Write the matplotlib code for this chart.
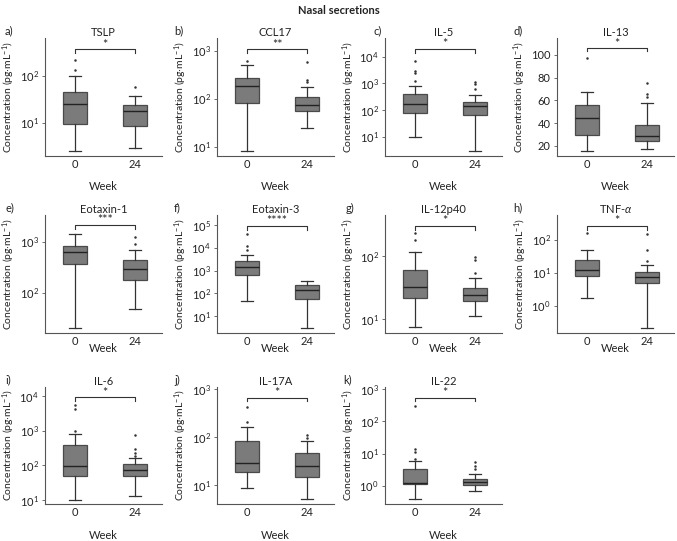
import matplotlib
matplotlib.use("Agg")
import matplotlib.pyplot as plt
import numpy as np

plt.rcParams['font.family'] = ['Lato', 'DejaVu Sans']
plt.rcParams['mathtext.fontset'] = 'custom'
plt.rcParams['mathtext.rm'] = 'Lato'
plt.rcParams['mathtext.it'] = 'Lato:italic'
plt.rcParams['font.size'] = 8

weeks = ["0", "24"]
panel_letters = ["a)", "b)", "c)", "d)", "e)", "f)", "g)", "h)", "i)", "j)", "k)"]
titles = ["TSLP", "CCL17", "IL-5", "IL-13", "Eotaxin-1", "Eotaxin-3",
          "IL-12p40", r"TNF-$\alpha$", "IL-6", "IL-17A", "IL-22"]
stars = ["*", "**", "*", "*", "***", "****", "*", "*", "*", "*", "*"]
log_scale = [True, True, True, False, True, True, True, True, True, True, True]

# box stats per panel: [whislo, q1, median, q3, whishi] for week 0 and week 24
week0_box = [
    [2.6, 9.3, 25, 45, 97],
    [8.1, 83, 183, 269, 497],
    [10, 77, 175, 420, 840],
    [15.3, 29.5, 44.8, 56, 67.6],
    [20, 368, 617, 811, 1420],
    [44, 620, 1500, 2760, 4900],
    [7.4, 21.6, 33, 60, 117],
    [1.75, 7.7, 11.7, 24, 47.5],
    [10, 48, 95, 395, 820],
    [8.9, 18.8, 29, 83, 161],
    [0.39, 1.1, 1.2, 3.2, 5.7],
]
week24_box = [
    [3.0, 8.6, 18, 24, 38],
    [25, 56, 75, 108, 175],
    [2.9, 65, 138, 208, 383],
    [17.6, 24.2, 28.7, 38, 58.1],
    [47, 177, 297, 435, 677],
    [3.1, 57, 141, 234, 363],
    [11.2, 19.4, 24, 31, 45],
    [0.21, 5.0, 7.3, 10.7, 17.5],
    [12.8, 48, 72, 107, 160],
    [5.1, 15, 25, 47, 83],
    [0.68, 1.07, 1.3, 1.65, 2.3],
]
week0_fliers = [
    [218, 132],
    [620],
    [6700, 3000, 2450, 1250],
    [96.8],
    [],
    [41400, 11500, 8200],
    [233, 184],
    [157],
    [5760, 4400, 1020],
    [424, 211],
    [307, 14, 11.3, 6.6],
]
week24_fliers = [
    [57],
    [583, 248, 222],
    [1150, 917, 610],
    [75.6, 65.8, 63.2],
    [1220, 890],
    [],
    [96, 87, 55],
    [146, 47.5, 22],
    [750, 290, 230, 185],
    [112, 98],
    [5.3, 4.2, 3.4],
]
bracket_y = [366, 1070, 19600, 105.7, 2130, 90000, 304, 262, 9200, 673, 550]
y_limits = [(2.0, 630), (6.5, 1830), (1.9, 51000), (11.1, 114.8), (16, 3360),
            (1.8, 277000), (6.0, 456), (0.146, 566), (7.7, 18500), (4.1, 1116),
            (0.27, 1180)]
y_ticks = [
    [1e1, 1e2],
    [1e1, 1e2, 1e3],
    [1e1, 1e2, 1e3, 1e4],
    [20, 40, 60, 80, 100],
    [1e2, 1e3],
    [1e1, 1e2, 1e3, 1e4, 1e5],
    [1e1, 1e2],
    [1e0, 1e1, 1e2],
    [1e1, 1e2, 1e3, 1e4],
    [1e1, 1e2, 1e3],
    [1e0, 1e1, 1e2, 1e3],
]

W, H = 677, 541
fig = plt.figure(figsize=(W / 100, H / 100), dpi=100)

col_x = [45, 217, 385, 557]
row_y = [(38, 156), (215, 333), (387, 504)]
label_x = [5, 174, 373, 513, 5, 174, 346, 513, 5, 174, 343]
week_label_y = [-0.21, -0.085, -0.22]
ax_w = 117

edge = "#333333"
for i in range(11):
    r, c = divmod(i, 4)
    top, bot = row_y[r]
    ax = fig.add_axes([col_x[c] / W, 1 - bot / H, ax_w / W, (bot - top) / H])

    stats = []
    for box, fl, lab in [(week0_box[i], week0_fliers[i], weeks[0]),
                         (week24_box[i], week24_fliers[i], weeks[1])]:
        stats.append(dict(whislo=box[0], q1=box[1], med=box[2], q3=box[3],
                          whishi=box[4], fliers=fl, label=lab))
    ax.bxp(stats, positions=[0, 1], widths=0.4, patch_artist=True,
           boxprops=dict(facecolor="#7b7b7b", edgecolor="#4a4a4a", linewidth=0.9),
           medianprops=dict(color="#222222", linewidth=1.0),
           whiskerprops=dict(color=edge, linewidth=0.9),
           capprops=dict(color=edge, linewidth=0.9),
           flierprops=dict(marker="o", markersize=1.8, markerfacecolor=edge,
                           markeredgewidth=0))

    if log_scale[i]:
        ax.set_yscale("log")
    ax.set_ylim(*y_limits[i])
    ax.set_yticks(y_ticks[i])
    ax.minorticks_off()
    ax.set_xlim(-0.5, 1.45)

    # significance bracket
    yb = bracket_y[i]
    if log_scale[i]:
        drop = yb / 10 ** (0.03 * np.log10(y_limits[i][1] / y_limits[i][0]))
    else:
        drop = yb - 0.025 * (y_limits[i][1] - y_limits[i][0])
    ax.plot([0, 0, 1, 1], [drop, yb, yb, drop], color=edge, lw=0.8)
    ax.annotate(stars[i], xy=(0.5, yb), xytext=(0, -1), textcoords="offset points",
                ha="center", va="bottom", fontsize=9, color="#222222")

    ax.spines["top"].set_visible(False)
    ax.spines["right"].set_visible(False)
    for s in ["left", "bottom"]:
        ax.spines[s].set_color("#555555")
        ax.spines[s].set_linewidth(0.8)
    ax.tick_params(axis="both", length=2.5, width=0.6, color="#555555",
                   labelsize=8, labelcolor="#222222", pad=2)
    ax.tick_params(axis="x", length=0)

    ax.set_title(titles[i], fontsize=8, pad=1.5, color="#222222")
    ax.set_ylabel(r"Concentration (pg$\cdot$mL$^{-1}$)", fontsize=7.5, color="#222222",
                  labelpad=2)
    ax.set_xlabel("Week", fontsize=8, color="#222222")
    ax.xaxis.set_label_coords(0.5, week_label_y[r])

    fig.text(label_x[i] / W, 1 - (top - 7) / H, panel_letters[i], fontsize=8,
             va="center", ha="left", color="#222222")

fig.text(0.5, 1 - 10 / H, "Nasal secretions", fontsize=8, fontweight="bold",
         ha="center", va="center", color="#222222")

fig.savefig("out.png", dpi=100)
